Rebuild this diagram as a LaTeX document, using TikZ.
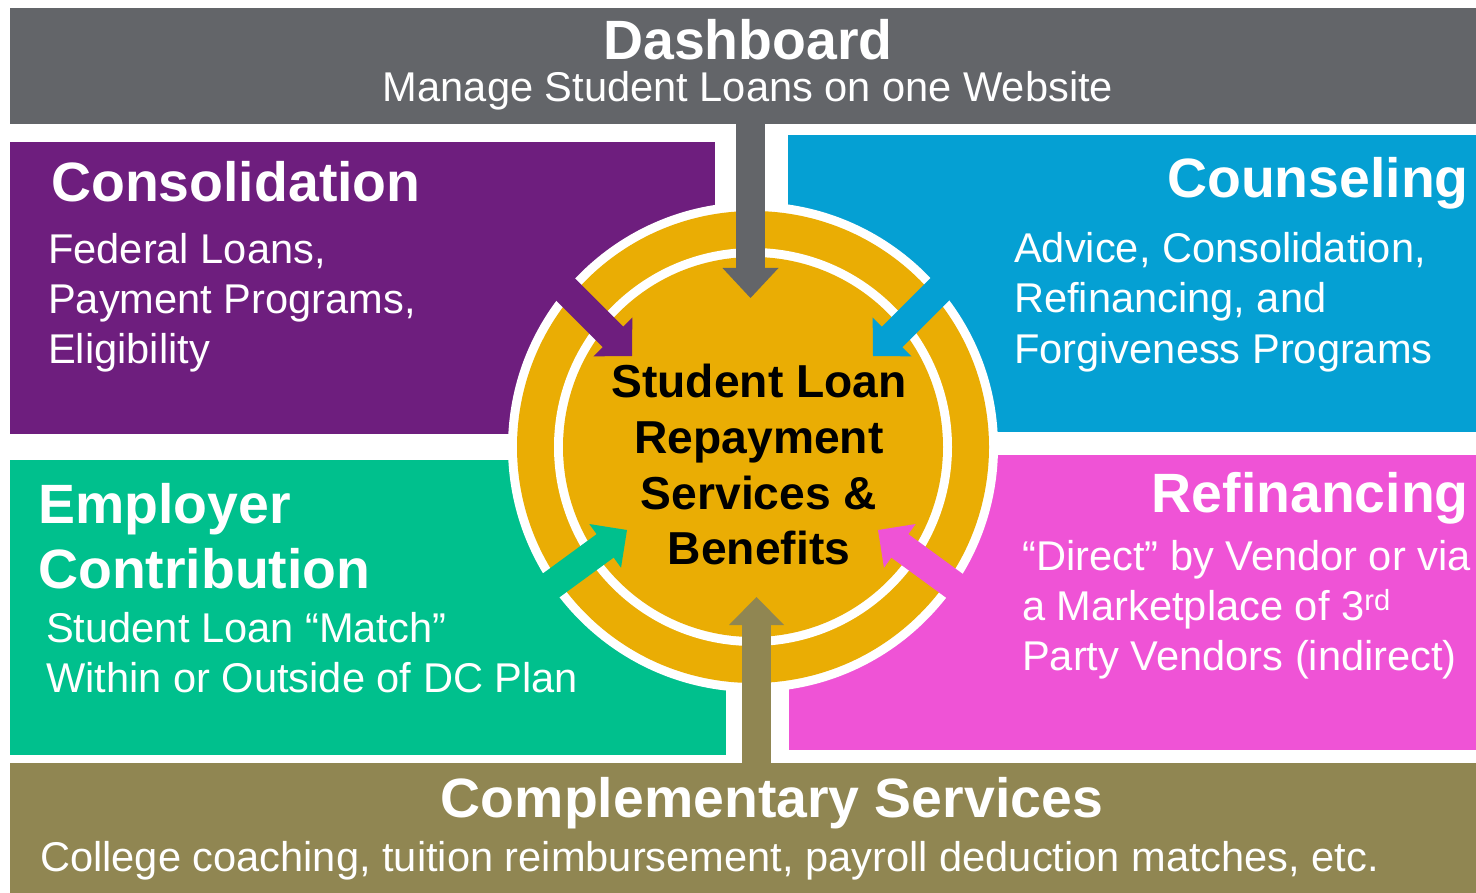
\documentclass[tikz,border=0pt]{standalone}
\usepackage{fontspec}
\setmainfont{Liberation Sans}
\usetikzlibrary{calc}

\definecolor{dashgray}{HTML}{636569}
\definecolor{consPurple}{HTML}{6E1E7E}
\definecolor{counBlue}{HTML}{05A0D3}
\definecolor{emplGreen}{HTML}{00C08D}
\definecolor{refiPink}{HTML}{EF53D6}
\definecolor{compOlive}{HTML}{908652}
\definecolor{hubGold}{HTML}{EAAD04}

\tikzset{
  title/.style={text=white, font=\fontsize{55.4}{65}\selectfont\bfseries, inner sep=0pt},
  body/.style={text=white, font=\fontsize{41.6}{50}\selectfont, inner sep=0pt},
  hubtext/.style={text=black, font=\fontsize{46.2}{55}\selectfont\bfseries, inner sep=0pt},
}

% block arrow: #1 colour, #2 start, #3 tip, #4 direction, #5 head length, #6 head width
\newcommand{\hubarrow}[6]{%
  \draw[#1, line width=29pt] (#2) -- ($(#3)+({#4+180}:{#5-1})$);
  \fill[#1] (#3) -- ($(#3)+({#4+180}:{#5})+({#4+90}:{#6/2})$)
             -- ($(#3)+({#4+180}:{#5})+({#4-90}:{#6/2})$) -- cycle;
}

\begin{document}
\begin{tikzpicture}[x=1pt, y=-1pt]
\useasboundingbox (0,0) rectangle (1476,893);
\fill[white] (0,0) rectangle (1476,893);

% coloured blocks
\fill[dashgray]   (10,8)    rectangle (1476,124);
\fill[consPurple] (10,142)  rectangle (715,434);
\fill[counBlue]   (788,135) rectangle (1476,432);
\fill[emplGreen]  (10,460)  rectangle (726,755);
\fill[refiPink]   (789,455) rectangle (1476,750);
\fill[compOlive]  (10,763)  rectangle (1476,893);

% central hub with its two rings
\coordinate (hubc) at (753,447);
\fill[white]   (hubc) circle[radius=245];
\fill[hubGold] (hubc) circle[radius=236];
\fill[white]   (hubc) circle[radius=199];
\fill[hubGold] (hubc) circle[radius=190];

% arrow end points
\coordinate (dashFrom) at (750.5,118);
\coordinate (dashTip)  at (750.5,298);
\coordinate (compFrom) at (756.5,775);
\coordinate (compTip)  at (756.5,597);
\coordinate (consFrom) at (547,271);
\coordinate (consTip)  at (632,356);
\coordinate (counFrom) at (958,271);
\coordinate (counTip)  at (873,356);
\coordinate (emplFrom) at (538,595);
\coordinate (emplTip)  at (627,530);
\coordinate (refiFrom) at (967,595);
\coordinate (refiTip)  at (878,530);

\hubarrow{dashgray}{dashFrom}{dashTip}{90}{30}{56}
\hubarrow{compOlive}{compFrom}{compTip}{270}{28}{55}
\hubarrow{consPurple}{consFrom}{consTip}{45}{27}{55}
\hubarrow{counBlue}{counFrom}{counTip}{135}{27}{55}
\hubarrow{emplGreen}{emplFrom}{emplTip}{-36}{27}{54}
\hubarrow{refiPink}{refiFrom}{refiTip}{216}{27}{54}

% Dashboard
\node[title, anchor=base] (dashT) at (748,60) {Dashboard};
\node[body, anchor=base]  (dashB) at (748,102) {Manage Student Loans on one Website};

% Consolidation
\node[title, anchor=base west] (consT) at (51,202) {Consolidation};
\node[body, anchor=base west]  (cons1) at (48,264) {Federal Loans,};
\node[body, anchor=base west]  (cons2) at (48,314) {Payment Programs,};
\node[body, anchor=base west]  (cons3) at (48,364) {Eligibility};

% Counseling
\node[title, anchor=base east] (counT) at (1469,198) {Counseling};
\node[body, anchor=base west]  (coun1) at (1014,263) {Advice, Consolidation,};
\node[body, anchor=base west]  (coun2) at (1014,313) {Refinancing, and};
\node[body, anchor=base west]  (coun3) at (1014,364) {Forgiveness Programs};

% Employer Contribution
\node[title, anchor=base west] (emplT1) at (38,523) {Employer};
\node[title, anchor=base west] (emplT2) at (38,588) {Contribution};
\node[body, anchor=base west]  (empl1) at (46,642) {Student Loan “Match”};
\node[body, anchor=base west]  (empl2) at (46,692) {Within or Outside of DC Plan};

% Refinancing
\node[title, anchor=base east] (refiT) at (1469,512) {Refinancing};
\node[body, anchor=base west]  (refi1) at (1022,570) {“Direct” by Vendor or via};
\node[body, anchor=base west]  (refi2) at (1022,620) {a Marketplace of 3\textsuperscript{rd}};
\node[body, anchor=base west]  (refi3) at (1022,670) {Party Vendors (indirect)};

% Complementary Services
\node[title, anchor=base] (compT) at (772,817) {Complementary Services};
\node[body, anchor=base west] (comp1) at (40,871) {College coaching, tuition reimbursement, payroll deduction matches, etc.};

% hub text
\node[hubtext, anchor=base] (hub1) at (759,398) {Student Loan};
\node[hubtext, anchor=base] (hub2) at (759,453) {Repayment};
\node[hubtext, anchor=base] (hub3) at (759,509) {Services \&};
\node[hubtext, anchor=base] (hub4) at (759,564) {Benefits};
\end{tikzpicture}
\end{document}
